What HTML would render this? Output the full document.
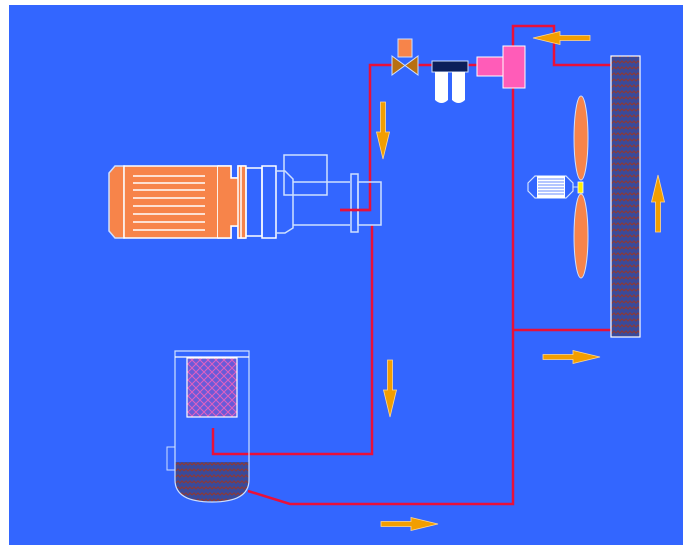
<!DOCTYPE html>
<html><head><meta charset="utf-8"><style>html,body{margin:0;padding:0;background:#fff}svg{display:block}</style></head>
<body>
<svg width="689" height="545" viewBox="0 0 689 545" xmlns="http://www.w3.org/2000/svg">
<defs>
<pattern id="wave" width="8" height="6" patternUnits="userSpaceOnUse">
<rect width="8" height="6" fill="#3a4a9a"/>
<path d="M0 3 L2 1 L4 3 L6 1 L8 3" fill="none" stroke="#8a3a3a" stroke-width="1.2"/>
</pattern>
<pattern id="hatch" width="8" height="8" patternUnits="userSpaceOnUse">
<rect width="8" height="8" fill="#6a5ad8"/>
<path d="M0 0 L8 8 M8 0 L0 8" stroke="#e060c0" stroke-width="1"/>
</pattern>
<path id="arr" d="M0 -2.5 H30 V-6.5 L57 0 L30 6.5 V2.5 H0 Z" fill="#F29E00" stroke="#ffd890" stroke-width="0.8"/>
<g id="fins"><line x1="133" x2="205" stroke="#fff" stroke-width="2"/></g>
</defs>
<rect x="9" y="5" width="674" height="540" fill="#3366FF"/>

<!-- red pipes -->
<g fill="none" stroke="#E8103A" stroke-width="2.5">
<polyline points="340,210 370,210 370,65 392,65"/>
<line x1="418" y1="65" x2="432" y2="65"/>
<line x1="468" y1="65" x2="477" y2="65"/>
<polyline points="513,46 513,26 554,26 554,65 612,65"/>
<polyline points="513,88 513,504 290,504 248,491"/>
<line x1="513" y1="330" x2="612" y2="330"/>
<polyline points="372,225 372,454 213,454 213,428"/>
</g>

<!-- motor -->
<g stroke="#fff" stroke-width="1.5">
<path d="M124 166 L115 166 L109 173 L109 231 L115 238 L124 238 Z" fill="#F7844A" stroke="#cfe0ff"/>
<rect x="124" y="166" width="94" height="72" fill="#F7844A"/>
<path d="M218 166 H231 V178 H238 V226 H231 V238 H218 Z" fill="#F7844A"/>
<path d="M218 166 H231 V178 H238 V166 H245 V238 H238 V226 H231 V238 H218" fill="#F7844A"/>
<rect x="238" y="166" width="8" height="72" fill="#F7844A"/>
<line x1="241" y1="166" x2="241" y2="238"/>
<rect x="246" y="168" width="16" height="68" fill="none"/>
<rect x="262" y="166" width="14" height="72" fill="none"/>
<path d="M276 171 H285 L293 179 V228 L285 233 H276" fill="none" stroke="#cfe0ff"/>
<rect x="284" y="155" width="43" height="40" fill="none" stroke="#cfe0ff"/>
<path d="M293 182 H350 M293 225 H350" fill="none" stroke="#cfe0ff"/>
<rect x="358" y="182" width="23" height="43" fill="none" stroke="#cfe0ff"/>
<rect x="351" y="174" width="7" height="58" fill="none" stroke="#cfe0ff"/>
</g>
<g stroke="#fff" stroke-width="1.5">
<line x1="133" x2="205" y1="176" y2="176"/><line x1="133" x2="205" y1="183" y2="183"/>
<line x1="133" x2="205" y1="190" y2="190"/><line x1="133" x2="205" y1="198" y2="198"/>
<line x1="133" x2="205" y1="206" y2="206"/><line x1="133" x2="205" y1="214" y2="214"/>
<line x1="133" x2="205" y1="222" y2="222"/><line x1="133" x2="205" y1="230" y2="230"/>
</g>
<line x1="340" y1="210" x2="370" y2="210" stroke="#E8103A" stroke-width="2.5"/>

<!-- valve -->
<rect x="398" y="39" width="14" height="18" fill="#F7844A" stroke="#cfe0ff"/>
<path d="M392 56 L418 75 L418 56 L392 75 Z" fill="#B87010" stroke="#cfe0ff"/>
<!-- filter -->
<rect x="432" y="61" width="36" height="11" fill="#0C1F5A" stroke="#cfe0ff"/>
<path d="M435 72 H448 V100 Q441.5 106 435 100 Z M452 72 H465 V100 Q458.5 106 452 100 Z" fill="#fff"/>
<!-- pink -->
<rect x="477" y="57" width="26" height="19" fill="#FF5CB8" stroke="#fff"/>
<rect x="503" y="46" width="22" height="42" fill="#FF5CB8" stroke="#fff"/>

<!-- condenser -->
<rect x="611" y="56" width="29" height="281" fill="url(#wave)" stroke="#fff" stroke-width="1.2"/>

<!-- fan -->
<ellipse cx="581" cy="138" rx="7" ry="42" fill="#F7844A" stroke="#cfe0ff"/>
<ellipse cx="581" cy="236" rx="7" ry="42" fill="#F7844A" stroke="#cfe0ff"/>
<rect x="578" y="182" width="5" height="11" fill="#FFEE00" stroke="#fff" stroke-width="0.8"/>
<path d="M535 176 H566 L573 183 V191 L566 198 H535 L528 191 V183 Z" fill="none" stroke="#cfe0ff" stroke-width="1.2"/>
<rect x="537" y="176" width="28" height="22" fill="#fff"/>
<g stroke="#6a8cff" stroke-width="1"><line x1="538" x2="564" y1="179" y2="179"/><line x1="538" x2="564" y1="182" y2="182"/><line x1="538" x2="564" y1="185" y2="185"/><line x1="538" x2="564" y1="188" y2="188"/><line x1="538" x2="564" y1="191" y2="191"/><line x1="538" x2="564" y1="194" y2="194"/></g>
<line x1="573" y1="187" x2="578" y2="187" stroke="#cfe0ff"/>

<!-- receiver -->
<path d="M175 462 H249 V480 Q249 502 212 502 Q175 502 175 480 Z" fill="url(#wave)"/>
<path d="M175 351 H249 V480 Q249 502 212 502 Q175 502 175 480 Z" fill="none" stroke="#cfe0ff" stroke-width="1.2"/>
<line x1="175" y1="357" x2="249" y2="357" stroke="#fff" stroke-width="1.2"/>
<rect x="187" y="358" width="50" height="59" fill="url(#hatch)" stroke="#fff" stroke-width="1.2"/>
<rect x="167" y="447" width="8" height="23" fill="none" stroke="#cfe0ff"/>

<!-- arrows -->
<use href="#arr" transform="translate(590,38) rotate(180)"/>
<use href="#arr" transform="translate(383,102) rotate(90)"/>
<use href="#arr" transform="translate(390,360) rotate(90)"/>
<use href="#arr" transform="translate(658,232) rotate(-90)"/>
<use href="#arr" transform="translate(543,357)"/>
<use href="#arr" transform="translate(381,524)"/>
</svg>
</body></html>
